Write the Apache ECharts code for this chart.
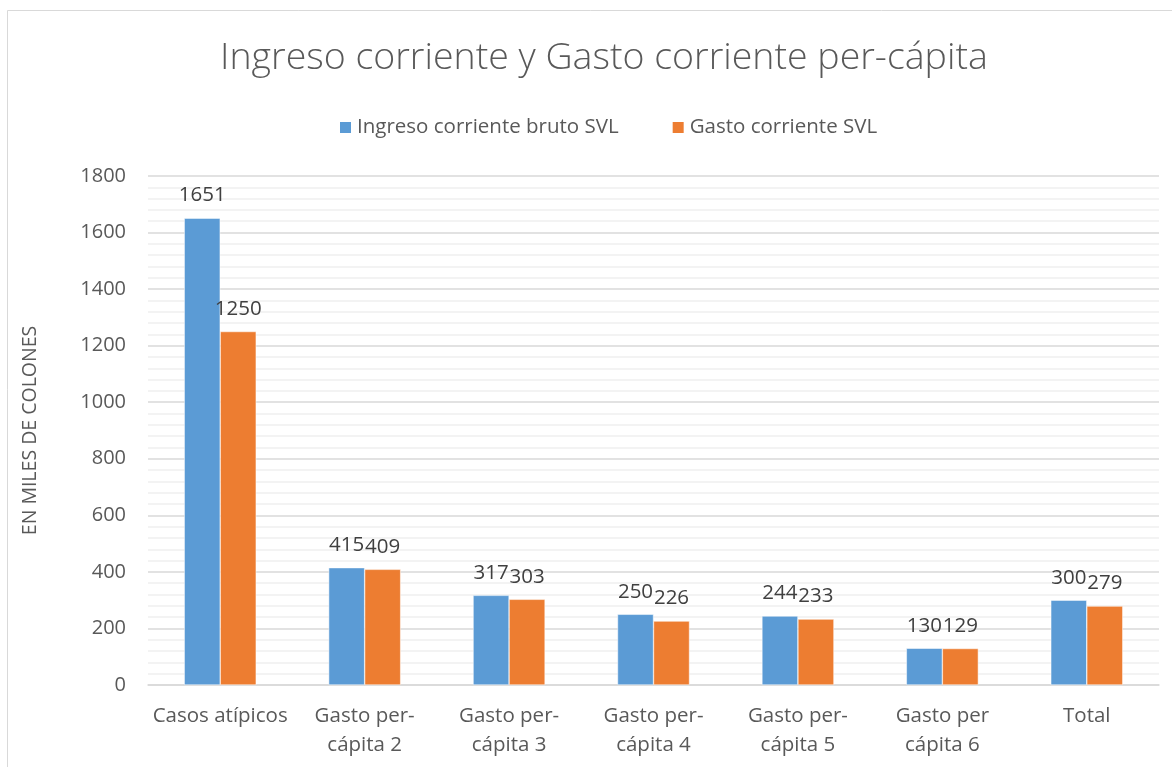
<!DOCTYPE html>
<html><head><meta charset="utf-8">
<script src="https://cdn.jsdelivr.net/npm/echarts@6/dist/echarts.min.js"></script>
<style>html,body{margin:0;padding:0;background:#fff}#c{width:1172px;height:767px}</style>
</head><body><div id="c"></div>
<script>
const categories = ['Casos atípicos','Gasto per-\ncápita 2','Gasto per-\ncápita 3','Gasto per-\ncápita 4','Gasto per-\ncápita 5','Gasto per\ncápita 6','Total'];
const ingreso = [1651, 415, 317, 250, 244, 130, 300];
const gasto = [1250, 409, 303, 226, 233, 129, 279];
const yTicks = {min: 0, max: 1800, interval: 200};

const font = '"Open Sans", "Noto Sans", sans-serif';
const chart = echarts.init(document.getElementById('c'), null, {renderer: 'canvas'});
chart.setOption({
  animation: false,
  backgroundColor: '#fff',
  graphic: [{type: 'rect', shape: {x: 7.5, y: 10.5, width: 1180, height: 780}, style: {fill: 'none', stroke: '#D9D9D9', lineWidth: 1}, silent: true}],
  title: {text: 'Ingreso corriente y Gasto corriente per-cápita', left: 215, top: 34,
    textStyle: {fontFamily: font, fontWeight: 300, fontSize: 37.5, color: '#595959'}},
  legend: {top: 112, left: 333, itemWidth: 13, itemHeight: 13, itemGap: 52, icon: 'rect',
    textStyle: {fontFamily: font, fontSize: 20.5, color: '#595959'}},
  grid: {left: 148, right: 13, top: 176, bottom: 82},
  xAxis: {type: 'category', data: categories,
    axisLine: {lineStyle: {color: '#D9D9D9', width: 1.5}}, axisTick: {show: false},
    axisLabel: {fontFamily: font, fontSize: 20.5, color: '#595959', margin: 17, lineHeight: 29, interval: 0}},
  yAxis: {type: 'value', min: yTicks.min, max: yTicks.max, interval: yTicks.interval,
    name: 'EN MILES DE COLONES', nameLocation: 'middle', nameGap: 108, nameRotate: 90,
    nameTextStyle: {fontFamily: font, fontSize: 19.5, color: '#595959'},
    axisLine: {show: false}, axisTick: {show: false},
    axisLabel: {fontFamily: font, fontSize: 20, color: '#595959', margin: 22, formatter: v => String(v)},
    splitLine: {lineStyle: {color: '#D9D9D9', width: 1.5}},
    minorTick: {show: false, splitNumber: 5},
    minorSplitLine: {show: true, lineStyle: {color: '#F0F0F0', width: 1.5}}},
  series: [
    {name: 'Ingreso corriente bruto SVL', type: 'bar', data: ingreso, barWidth: 36, barGap: '0%',
      itemStyle: {color: '#5B9BD5', borderColor: '#fff', borderWidth: 0.5},
      label: {show: true, position: 'top', distance: 12, fontFamily: font, fontSize: 20.5, color: '#404040'}},
    {name: 'Gasto corriente SVL', type: 'bar', data: gasto, barWidth: 36,
      itemStyle: {color: '#ED7D31', borderColor: '#fff', borderWidth: 0.5},
      label: {show: true, position: 'top', distance: 12, fontFamily: font, fontSize: 20.5, color: '#404040'}}
  ]
});
</script></body></html>
